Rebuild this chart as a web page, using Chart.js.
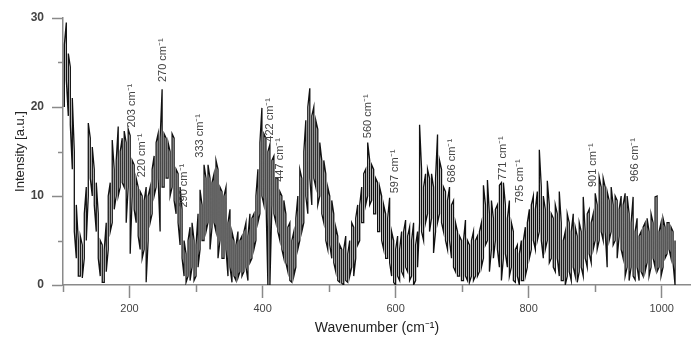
<!DOCTYPE html>
<html>
<head>
<meta charset="utf-8">
<script src="https://cdn.jsdelivr.net/npm/chart.js@4"></script>
<style>
  html, body { margin: 0; padding: 0; background: #fff; }
  #wrap { width: 691px; height: 339px; }
</style>
</head>
<body>
<div id="wrap"><canvas id="raman"></canvas></div>
<script>
// wavenumber samples (cm-1)
const wavenumber = [
  102,105,108,111,114,117,120,123,126,129,
  132,135,138,141,144,147,150,153,156,159,
  162,165,168,171,174,177,180,183,186,189,
  192,195,198,201,204,207,210,213,216,219,
  222,225,228,231,234,237,240,243,246,249,
  252,255,258,261,264,267,270,273,276,279,
  282,285,288,291,294,297,300,303,306,309,
  312,315,318,321,324,327,330,333,336,339,
  342,345,348,351,354,357,360,363,366,369,
  372,375,378,381,384,387,390,393,396,399,
  402,405,408,411,414,417,420,423,426,429,
  432,435,438,441,444,447,450,453,456,459,
  462,465,468,471,474,477,480,483,486,489,
  492,495,498,501,504,507,510,513,516,519,
  522,525,528,531,534,537,540,543,546,549,
  552,555,558,561,564,567,570,573,576,579,
  582,585,588,591,594,597,600,603,606,609,
  612,615,618,621,624,627,630,633,636,639,
  642,645,648,651,654,657,660,663,666,669,
  672,675,678,681,684,687,690,693,696,699,
  702,705,708,711,714,717,720,723,726,729,
  732,735,738,741,744,747,750,753,756,759,
  762,765,768,771,774,777,780,783,786,789,
  792,795,798,801,804,807,810,813,816,819,
  822,825,828,831,834,837,840,843,846,849,
  852,855,858,861,864,867,870,873,876,879,
  882,885,888,891,894,897,900,903,906,909,
  912,915,918,921,924,927,930,933,936,939,
  942,945,948,951,954,957,960,963,966,969,
  972,975,978,981,984,987,990,993,996,999,
  1002,1005,1008,1011,1014,1017,1020
];

// top of the noisy trace at each sample [a.u.]
const bandHigh = [
  27, 29.5, 26, 24.5, 21, 15, 9, 5, 5.5, 4.5,
  8, 11, 18.2, 16.5, 15.5, 13, 11.5, 8, 5, 4.5,
  4, 7, 10, 11.5, 16.3, 13, 14, 17.8, 15, 16.5,
  17.3, 16, 17.5, 16.8, 14, 13.5, 12, 11, 10.5, 10,
  9.5, 11, 10, 11, 13, 14.5, 16, 17, 16.5, 22,
  17, 16.5, 16, 15, 17, 16.5, 13, 12.5, 11, 8.5,
  5, 3.5, 5, 6.5, 7, 5, 4.5, 8, 10.7, 9,
  13.5, 12, 13.5, 12, 11.5, 12.5, 14, 13, 11, 10.5,
  10, 11, 7, 8.5, 6, 5, 4.5, 6, 5, 5.5,
  6, 7, 5.5, 8, 7.5, 8, 10, 13, 16, 19.9,
  17, 16.5, 15, 15.8, 14, 14.5, 12, 12, 10.5, 10,
  9.5, 8, 6.5, 7, 5, 6, 7.5, 10, 13, 12,
  15, 18.5, 20, 22.1, 19, 20, 18.5, 17.5, 16, 14,
  14, 12.5, 11, 10, 9.5, 8, 6.5, 5.5, 4.5, 4,
  4, 5.5, 3.5, 5, 7, 6.5, 7.5, 9, 9, 11,
  12.5, 13, 16, 14, 13.5, 13, 12, 11.5, 11, 10,
  9, 8, 7.5, 9.8, 6, 5, 4, 5.5, 4, 6,
  6, 7.3, 5.5, 6.5, 5, 7, 4.5, 6, 18, 13,
  11, 12.5, 13, 12, 12.5, 11, 12, 16.9, 14, 13,
  11, 10.5, 9.5, 11, 9, 9.5, 7, 6, 5.5, 5,
  5, 7.3, 5, 4.5, 5, 6, 5, 5.5, 6, 7,
  11.2, 9, 11.8, 8, 9.5, 7.5, 8.5, 9, 11.2, 11.5,
  11.5, 9, 7.5, 9.5, 7, 6, 4, 4.5, 3.5, 5,
  5, 6.5, 7, 8.5, 9, 10, 8.5, 10.5, 15.2, 11,
  10, 8.5, 11.7, 9, 8, 7.5, 9, 8, 10.5, 7,
  5, 6, 8, 7, 6, 8, 6.5, 5.5, 7, 6,
  9.9, 6, 8, 8.5, 7, 8, 10.3, 9, 12.1, 11,
  12, 11, 10.5, 9.5, 11, 9, 10, 9.5, 8.5, 10,
  9, 10.3, 10, 8, 7, 9.9, 6, 7.5, 5.5, 6,
  6.5, 7, 7.5, 6, 8, 7, 9.9, 10, 6, 7,
  7.5, 6.5, 7, 7, 6.5, 6, 5
];

// bottom of the noisy trace at each sample [a.u.]
const bandLow = [
  20, 23, 19, 18, 13, 6, 3, 1, 1, 0.8,
  3, 5, 10, 12, 10, 9, 6, 3, 1, 0.3,
  0.3, 1.5, 4, 6, 7, 8.5, 10, 10, 11, 11.5,
  11, 7, 11, 3.5, 10, 8.5, 7, 5.5, 4, 3,
  4, 0.3, 5, 7, 8, 10, 11, 12, 6, 11,
  11, 12, 12, 10, 11, 9.5, 8, 7, 4.5, 3,
  1, 0.3, 1, 0.5, 2, 0.5, 1, 2, 4, 5,
  5, 6, 7, 4, 6.5, 7, 6, 3, 5, 3,
  3, 4, 1, 2, 0.3, 1, 0.5, 0.8, 1.5, 1,
  1.5, 2, 0.5, 2.5, 3, 4, 5, 7, 8, 10,
  9, 10, 0, 0, 9, 8, 7, 6, 5, 4,
  3, 2.5, 1.5, 0.5, 0.3, 1, 2, 4, 5, 6,
  7, 10, 8, 12, 9, 12, 11, 9, 10, 8,
  7, 5, 4, 4.5, 3, 2.5, 1.5, 0.5, 0.3, 0.2,
  0, 0.5, 0.3, 1, 2, 1, 3, 4.5, 5, 7,
  7, 9, 10, 9, 9.5, 8, 8, 6, 6, 5,
  4, 3, 3, 2.5, 1, 0.3, 0, 1, 0.5, 1.5,
  1, 2, 1.5, 0.5, 1, 0, 0.5, 2, 7, 6,
  5, 7, 8, 6, 7.5, 3.6, 6, 7, 8, 7,
  6, 5, 4, 5, 3, 2, 1.5, 1, 1, 0.5,
  0.5, 1, 0.5, 0.3, 1, 0.5, 1, 1, 1.5, 2,
  3, 4.5, 5, 1.5, 4, 3, 5, 4, 2, 0.5,
  3, 3.5, 2, 1, 2, 0.5, 0.3, 1, 0, 0.5,
  0.5, 1, 2, 3, 4, 5, 4, 5, 6, 5,
  3, 4, 5, 2.5, 3, 2, 1.5, 3, 1, 0.5,
  0.5, 0, 1, 1.5, 0.5, 2, 1, 0.3, 1.5, 2,
  1, 3, 2, 3.5, 2.5, 4, 5, 4, 5, 6,
  5, 6, 2, 5, 6, 4.5, 5, 3, 5.5, 4,
  3, 1, 2, 0.5, 2, 1, 0.6, 2, 0.5, 1.5,
  1, 1.5, 2.5, 1, 2, 3, 2, 1.5, 2, 1,
  2, 3, 3.5, 4, 3, 2.5, 0
];

// peak annotations: text, wavenumber position and baseline height of the rotated label
const peakLabels = ["203 cm⁻¹", "220 cm⁻¹", "270 cm⁻¹", "290 cm⁻¹", "333 cm⁻¹", "422 cm⁻¹", "447 cm⁻¹",
                    "560 cm⁻¹", "597 cm⁻¹", "686 cm⁻¹", "771 cm⁻¹", "795 cm⁻¹", "901 cm⁻¹", "966 cm⁻¹"];
const peakX = [204, 219, 250, 282, 306, 411, 426, 559, 599, 685, 762, 787, 897, 960];
const peakY = [17.7, 12.1, 22.8, 8.7, 14.3, 16.1, 11.6, 16.5, 10.3, 11.5, 11.8, 9.2, 11.0, 11.6];

const xTickLabels = [200, 400, 600, 800, 1000];
const yTickLabels = [0, 10, 20, 30];

// trace goes low->high at one sample, high->low at the next, like the recorded spikes
const points = [];
wavenumber.forEach((w, i) => {
  if (i % 2 === 0) {
    points.push({ x: w, y: bandLow[i] }, { x: w, y: bandHigh[i] });
  } else {
    points.push({ x: w, y: bandHigh[i] }, { x: w, y: bandLow[i] });
  }
});

const axisGray = "#8a8a8a";
const textGray = "#444";

// short minor ticks (odd hundreds on x, odd fives on y)
const minorTicks = {
  id: "minorTicks",
  afterDraw(chart) {
    const c = chart.ctx;
    const xs = chart.scales.x, ys = chart.scales.y;
    c.save();
    c.strokeStyle = axisGray;
    c.lineWidth = 1.5;
    xs.ticks.forEach(t => {
      if (xTickLabels.indexOf(t.value) === -1) {
        const px = Math.round(xs.getPixelForValue(t.value)) + 0.5;
        c.beginPath();
        c.moveTo(px, ys.bottom);
        c.lineTo(px, ys.bottom + 7);
        c.stroke();
      }
    });
    ys.ticks.forEach(t => {
      if (yTickLabels.indexOf(t.value) === -1) {
        const py = Math.round(ys.getPixelForValue(t.value)) + 0.5;
        c.beginPath();
        c.moveTo(xs.left, py);
        c.lineTo(xs.left - 5, py);
        c.stroke();
      }
    });
    c.restore();
  }
};

// rotated peak labels
const peakText = {
  id: "peakText",
  afterDatasetsDraw(chart) {
    const c = chart.ctx;
    const xs = chart.scales.x, ys = chart.scales.y;
    c.save();
    c.fillStyle = textGray;
    c.font = "11px 'Liberation Sans', Arial, sans-serif";
    c.textAlign = "left";
    c.textBaseline = "middle";
    peakLabels.forEach((txt, i) => {
      c.save();
      c.translate(xs.getPixelForValue(peakX[i]), ys.getPixelForValue(peakY[i]));
      c.rotate(-Math.PI / 2);
      c.fillText(txt, 0, 0);
      c.restore();
    });
    c.restore();
  }
};

new Chart(document.getElementById("raman"), {
  type: "line",
  data: {
    datasets: [{
      data: points,
      borderColor: "#111",
      borderWidth: 1.3,
      pointRadius: 0,
      tension: 0,
      fill: false
    }]
  },
  options: {
    responsive: true,
    maintainAspectRatio: false,
    animation: false,
    layout: { padding: { top: 18, right: 0, left: 0, bottom: 0 } },
    plugins: { legend: { display: false }, tooltip: { enabled: false } },
    scales: {
      x: {
        type: "linear",
        min: 100,
        max: 1044,
        afterFit: s => { s.height = 54; },
        border: { color: axisGray, width: 1.5 },
        grid: {
          drawOnChartArea: false,
          tickLength: 13,
          tickWidth: 1.5,
          tickColor: ctx => xTickLabels.indexOf(ctx.tick && ctx.tick.value) !== -1 ? axisGray : "rgba(0,0,0,0)"
        },
        ticks: {
          stepSize: 100,
          includeBounds: false,
          autoSkip: false,
          maxRotation: 0,
          padding: 4,
          color: textGray,
          font: { family: "'Liberation Sans', Arial, sans-serif", size: 11 },
          callback: v => xTickLabels.indexOf(v) !== -1 ? String(v) : ""
        },
        title: {
          display: true,
          text: "Wavenumber (cm⁻¹)",
          color: "#222",
          font: { family: "'Liberation Sans', Arial, sans-serif", size: 14 },
          padding: { top: 0, bottom: 2 }
        }
      },
      y: {
        min: 0,
        max: 30,
        afterFit: s => { s.width = 63; },
        border: { color: axisGray, width: 1.5 },
        grid: {
          drawOnChartArea: false,
          tickLength: 11,
          tickWidth: 1.5,
          tickColor: ctx => yTickLabels.indexOf(ctx.tick && ctx.tick.value) !== -1 ? axisGray : "rgba(0,0,0,0)"
        },
        ticks: {
          stepSize: 5,
          autoSkip: false,
          padding: 8,
          color: textGray,
          font: { family: "'Liberation Sans', Arial, sans-serif", size: 12, weight: "bold" },
          callback: v => yTickLabels.indexOf(v) !== -1 ? String(v) : ""
        },
        title: {
          display: true,
          text: "Intensity [a.u.]",
          color: "#222",
          font: { family: "'Liberation Sans', Arial, sans-serif", size: 13 },
          padding: { top: 13, bottom: 0 }
        }
      }
    }
  },
  plugins: [minorTicks, peakText]
});
</script>
</body>
</html>
